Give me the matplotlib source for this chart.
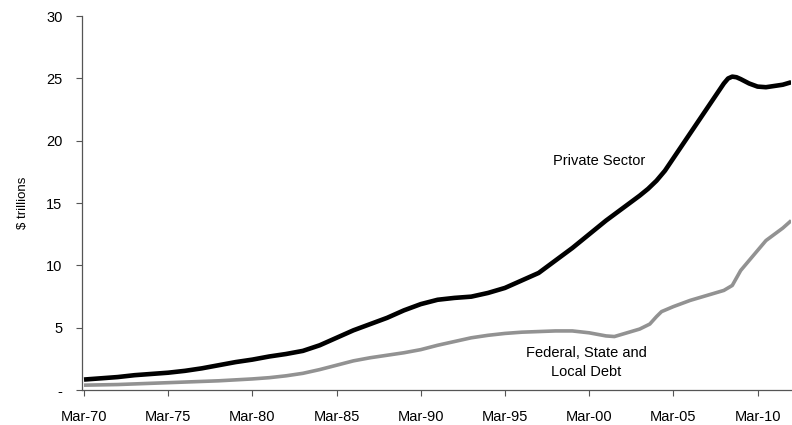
import matplotlib.pyplot as plt

# debt outstanding, $ trillions, by fractional year (March = year start)
private_years = [1970, 1971, 1972, 1973, 1974, 1975, 1976, 1977, 1978, 1979,
                 1980, 1981, 1982, 1983, 1984, 1985, 1986, 1987, 1988, 1989,
                 1990, 1991, 1992, 1993, 1994, 1995, 1996, 1997, 1998, 1999,
                 2000, 2001, 2002, 2003, 2003.5, 2004, 2004.5, 2005, 2006, 2007,
                 2007.5, 2008, 2008.25, 2008.5, 2008.75, 2009, 2009.5, 2010, 2010.5,
                 2011, 2011.5, 2012]
private_debt = [0.85, 0.95, 1.05, 1.2, 1.3, 1.4, 1.55, 1.75, 2.0, 2.25,
                2.45, 2.7, 2.9, 3.15, 3.6, 4.2, 4.8, 5.3, 5.8, 6.4,
                6.9, 7.25, 7.4, 7.5, 7.8, 8.2, 8.8, 9.4, 10.4, 11.4,
                12.5, 13.6, 14.6, 15.6, 16.15, 16.8, 17.6, 18.6, 20.6, 22.6,
                23.6, 24.6, 25.0, 25.15, 25.1, 24.95, 24.6, 24.35, 24.3,
                24.4, 24.5, 24.7]

gov_years = [1970, 1972, 1974, 1975, 1977, 1978, 1980, 1981, 1982, 1983,
             1984, 1985, 1986, 1987, 1988, 1989, 1990, 1991, 1992, 1993,
             1994, 1995, 1996, 1997, 1998, 1999, 2000, 2001, 2001.5, 2002,
             2003, 2003.6, 2004, 2004.3, 2005, 2006, 2007, 2008, 2008.5, 2009,
             2010, 2010.5, 2011, 2011.5, 2012]
gov_debt = [0.4, 0.45, 0.55, 0.6, 0.7, 0.75, 0.9, 1.0, 1.15, 1.35,
            1.65, 2.0, 2.35, 2.6, 2.8, 3.0, 3.25, 3.6, 3.9, 4.2,
            4.4, 4.55, 4.65, 4.7, 4.75, 4.75, 4.6, 4.35, 4.3, 4.5,
            4.9, 5.3, 5.9, 6.3, 6.7, 7.2, 7.6, 8.0, 8.4, 9.6,
            11.2, 12.0, 12.5, 13.0, 13.6]

tick_years = [1970, 1975, 1980, 1985, 1990, 1995, 2000, 2005, 2010]
tick_labels = ['Mar-70', 'Mar-75', 'Mar-80', 'Mar-85', 'Mar-90',
               'Mar-95', 'Mar-00', 'Mar-05', 'Mar-10']
y_ticks = [0, 5, 10, 15, 20, 25, 30]
y_labels = ['-', '5', '10', '15', '20', '25', '30']

plt.rcParams['font.family'] = ['Liberation Sans', 'DejaVu Sans']

fig = plt.figure(figsize=(7.92, 4.25), dpi=100)
ax = fig.add_axes([0.1035, 0.082, 0.8955, 0.88])

ax.plot(private_years, private_debt, color='black', lw=3.3,
        solid_capstyle='butt', solid_joinstyle='round')
ax.plot(gov_years, gov_debt, color='#929292', lw=2.6,
        solid_capstyle='butt', solid_joinstyle='round')

ax.text(2000.6, 18.4, 'Private Sector', ha='center', va='center', fontsize=10.5)
ax.text(1999.85, 2.25, 'Federal, State and\nLocal Debt', ha='center', va='center',
        fontsize=10.5, linespacing=1.45)

ax.set_xlim(1969.88, 2012.0)
ax.set_ylim(0, 30)
ax.set_xticks(tick_years)
ax.set_xticklabels(tick_labels, fontsize=10.5)
ax.set_yticks(y_ticks)
ax.set_yticklabels(y_labels, fontsize=10.5)
ax.set_ylabel('$ trillions', fontsize=9.5, labelpad=12)

for side in ['top', 'right']:
    ax.spines[side].set_visible(False)
for side in ['left', 'bottom']:
    ax.spines[side].set_color('#555555')
    ax.spines[side].set_linewidth(0.9)
ax.tick_params(axis='both', direction='out', length=4, width=0.8, color='#555555')
ax.tick_params(axis='x', pad=10)
ax.tick_params(axis='y', pad=10)

fig.savefig('out.png', dpi=100)
